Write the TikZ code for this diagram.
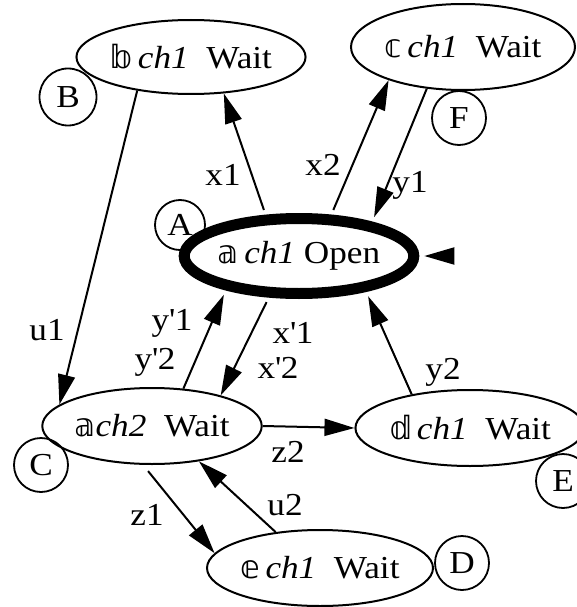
\documentclass[tikz,border=0pt]{standalone}
\usepackage{fontspec}
\setmainfont{Liberation Serif}[FakeStretch=1.1]
\newfontfamily\dblfont{DejaVu Sans}
\usetikzlibrary{arrows.meta,shapes.geometric}
\newcommand{\hol}[1]{{\dblfont #1}}
\tikzset{
  st/.style={ellipse, draw, line width=2pt, inner sep=0pt, font=\fontsize{32}{34}\selectfont},
  stopen/.style={st, line width=11pt},
  tag/.style={circle, draw, line width=1.8pt, inner sep=0pt, font=\fontsize{32}{34}\selectfont},
  tr/.style={-{Triangle[length=30pt,width=17pt]}, line width=2pt},
  lbl/.style={font=\fontsize{32}{34}\selectfont, inner sep=0pt},
}

\begin{document}
\begin{tikzpicture}[x=1pt,y=-1pt]
  \useasboundingbox (0,0) rectangle (576,607);
  \node[tag, minimum size=57pt] (tb) at (68.000,97.000) {B};
  \node[tag, minimum size=54pt] (tf) at (459.000,118.000) {F};
  \node[tag, minimum size=50pt] (ta) at (180.000,225.000) {A};
  \node[tag, minimum size=54pt] (tc) at (41.000,465.000) {C};
  \node[tag, minimum size=54pt] (td) at (462.000,563.000) {D};
  \node[tag, minimum size=54pt] (te) at (563.000,481.000) {E};
  \node[st, minimum width=226pt, minimum height=74pt] (sb) at (191.000,57.000) {\hol{𝕓}\,\textit{ch1}\ \ Wait};
  \node[st, minimum width=224pt, minimum height=86pt] (sc) at (463.000,47.000) {\hol{𝕔}\,\textit{ch1}\ \ Wait};
  \node[stopen, minimum width=206pt, minimum height=75pt] (sa) at (299.000,256.000) {\hol{𝕒}\,\textit{ch1} Open};
  \node[st, minimum width=212pt, minimum height=76pt] (sc2) at (152.000,426.000) {\hol{𝕒}\textit{ch2}\ \ Wait};
  \node[st, minimum width=216pt, minimum height=76pt] (sd) at (470.000,428.000) {\hol{𝕕}\,\textit{ch1}\ \ Wait};
  \node[st, minimum width=226pt, minimum height=76pt] (se) at (320.000,568.000) {\hol{𝕖}\,\textit{ch1}\ \ Wait};
  \coordinate (init) at (447.000,256.000);
  \draw[tr, shorten <=5pt] (sa.129) -- (sb.-48);
  \draw[tr, shorten <=5pt] (sa.52) -- (sc.-156);
  \draw[tr, shorten >=5pt] (sc.-131) -- (sa.25);
  \draw[tr] (sb.-148) -- (sc2.167);
  \draw[tr, shorten >=5pt] (sc2.50) -- (sa.-155);
  \draw[tr, shorten <=5pt] (sa.-126) -- (sc2.24);
  \draw[tr, shorten >=5pt] (sd.150) -- (sa.-28);
  \draw[tr] (sc2.0) -- (sd.180);
  \draw[tr, shorten <=8pt] (sc2.-103) -- (se.172);
  \draw[tr] (se.141) -- (sc2.-37);
  \draw[tr, shorten >=5pt] (init) -- (sa.east);
  \node[lbl] (lx1) at (223.000,175.000) {x1};
  \node[lbl] (lx2) at (323.000,165.000) {x2};
  \node[lbl] (ly1) at (410.000,185.000) {y1};
  \node[lbl] (lu1) at (47.000,330.000) {u1};
  \node[lbl] (lyp1) at (172.000,323.000) {y\textquotesingle1};
  \node[lbl] (lyp2) at (155.000,362.000) {y\textquotesingle2};
  \node[lbl] (lxp1) at (293.000,333.000) {x\textquotesingle1};
  \node[lbl] (lxp2) at (278.000,368.000) {x\textquotesingle2};
  \node[lbl] (ly2) at (443.000,372.000) {y2};
  \node[lbl] (lz2) at (288.000,452.000) {z2};
  \node[lbl] (lz1) at (147.000,515.000) {z1};
  \node[lbl] (lu2) at (285.000,505.000) {u2};
\end{tikzpicture}
\end{document}
